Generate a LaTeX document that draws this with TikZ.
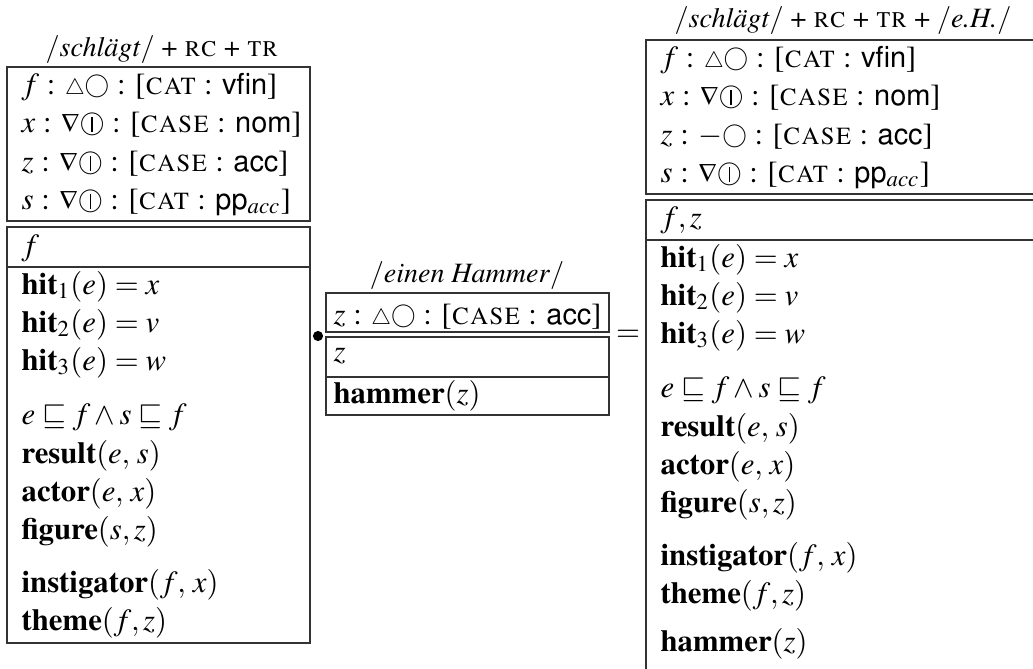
\documentclass[tikz,border=0pt]{standalone}
\usepackage[T1]{fontenc}
\usepackage{mathptmx}
\usepackage[scaled=0.94]{helvet}
\usetikzlibrary{positioning}
\newcommand\tri{\scalebox{0.72}{$\triangle$}}
\newcommand\ntri{\scalebox{0.85}{$\nabla$}}
\newcommand\ringsym{\raisebox{0.5pt}{\scalebox{0.8}{$\bigcirc$}}}
\newcommand\ringbar{\ooalign{\ringsym\cr\hfil$\vcenter{\hbox{\rule{0.4pt}{4.9pt}}}$\hfil\cr}}
\tikzset{
  row/.style={anchor=base west,inner sep=0pt},
  lab/.style={anchor=base,inner sep=0pt,font=\fontsize{9.1}{11}\selectfont},
  frame/.style={line width=0.55pt,draw=black!80},
  dotmark/.style={circle,fill,inner sep=0pt,minimum size=3.3pt}
}

\begin{document}
\begin{tikzpicture}[x=0.325pt,y=-0.325pt]

\useasboundingbox (0,0) rectangle (1033,668);
\clip (0,0) rectangle (1033,668);

% labels above the boxes
\node[lab] (lname) at (162,56) {$/$\textit{schl\"agt}$/$ + \textsc{rc} + \textsc{tr}};
\node[lab] (mname) at (467,282) {$/$\textit{einen Hammer}$/$};
\node[lab] (rname) at (843,27) {$/$\textit{schl\"agt}$/$ + \textsc{rc} + \textsc{tr} + $/$\textit{e.H.}$/$};

% frames
\draw[frame] (7,67) rectangle (310,221);
\draw[frame] (7,227) rectangle (310,643) (7,267)--(310,267);
\draw[frame] (326,293) rectangle (609,332);
\draw[frame] (326,337) rectangle (609,415) (326,377)--(609,377);
\draw[frame] (646,40) rectangle (1040,194);
\draw[frame] (646,200) rectangle (1040,690) (646,240)--(1040,240);

% sign rows (left, right)
\foreach \bx/\by/\nm/\zs in {21/67/l/{\ntri\ringbar}, 660/40/r/{$-$\ringsym}} {
  \foreach \dy/\txt [count=\i] in {
      27/{$f$ : \tri\ringsym{} : [\textsc{cat} : \textsf{vfin}]},
      65/{$x$ : \ntri\ringbar{} : [\textsc{case} : \textsf{nom}]},
      104/{$z$ : \zs{} : [\textsc{case} : \textsf{acc}]},
      142/{$s$ : \ntri\ringbar{} : [\textsc{cat} : \textsf{pp}$_{acc}$]}}
    \node[row] (\nm sig\i) at (\bx,\by+\dy) {\txt};
}

% referents
\node[row] (lref) at (21,255) {$f$};
\node[row] (rref) at (660,227) {$f, z$};

% conditions (left, right)
\foreach \bx/\by/\nm in {21/267/l, 660/240/r} {
  \foreach \dy/\txt [count=\i] in {
      27/{\textbf{hit}$_1(e) = x$},
      65/{\textbf{hit}$_2(e) = v$},
      103/{\textbf{hit}$_3(e) = w$},
      157/{$e \sqsubseteq f \wedge s \sqsubseteq f$},
      196/{\textbf{result}$(e,\,s)$},
      234/{\textbf{actor}$(e,\,x)$},
      272/{\textbf{figure}$(s, z)$},
      325/{\textbf{instigator}$(f,\,x)$},
      363/{\textbf{theme}$(f, z)$}}
    \node[row] (\nm cond\i) at (\bx,\by+\dy) {\txt};
}
\node[row] (rcond10) at (660,651) {\textbf{hammer}$(z)$};

% middle sign
\node[row] (msig) at (333,324) {$z$ : \tri\ringsym{} : [\textsc{case} : \textsf{acc}]};
\node[row] (mref) at (333,361) {$z$};
\node[row] (mcond) at (333,403) {\textbf{hammer}$(z)$};

% operators
\node[dotmark] (join) at (318,336) {};
\node (eq) at (628,336) {$=$};

\end{tikzpicture}
\end{document}
